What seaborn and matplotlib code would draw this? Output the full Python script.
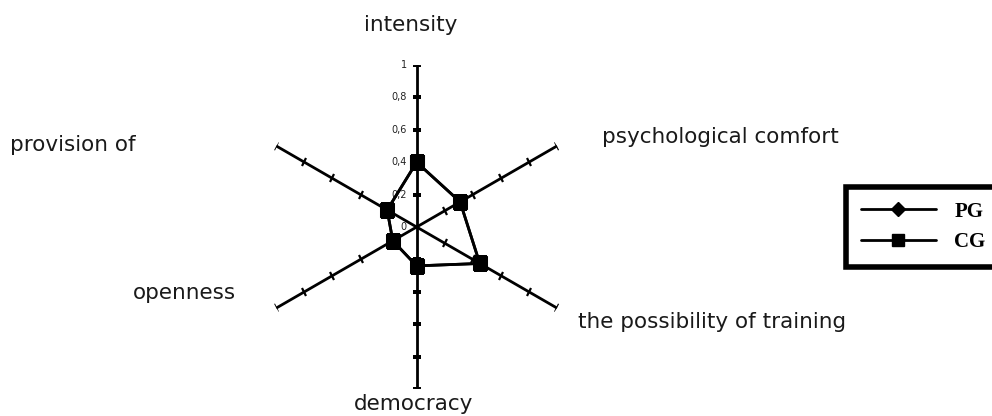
import numpy as np
import pandas as pd
import matplotlib
matplotlib.use('Agg')
import matplotlib.pyplot as plt
import seaborn as sns
from matplotlib.markers import MarkerStyle
from matplotlib.transforms import Affine2D
from matplotlib.lines import Line2D

# dados
categorias = ['intensity', 'psychological comfort', 'the possibility of training',
              'democracy', 'openness', 'provision of']
angulos_graus = [90, 30, -30, -90, 210, 150]
pg = [0.40, 0.31, 0.45, 0.24, 0.17, 0.21]
cg = [0.40, 0.31, 0.45, 0.24, 0.17, 0.21]
ticks_r = [0.2, 0.4, 0.6, 0.8, 1.0]
ticks_txt = ['0,2', '0,4', '0,6', '0,8', '1']

sns.set_style('white')
plt.rcParams['font.family'] = ['DejaVu Sans']

fig = plt.figure(figsize=(9.92, 4.16), dpi=100)
ax = fig.add_axes([0.2567, 0.0649, 0.3266, 0.7788], projection='polar')
ax.set_ylim(0, 1)
ax.grid(False)
ax.spines['polar'].set_visible(False)
ax.set_xticks([])
ax.set_yticks([])
ax.patch.set_alpha(0)

# eixos radiais com marcas
for ang in angulos_graus:
    t = np.deg2rad(ang)
    ax.plot([t, t], [0, 1], color='black', lw=2, zorder=1)
    mk = MarkerStyle('_', transform=Affine2D().rotate_deg(ang - 90))
    ax.plot([t] * len(ticks_r), ticks_r, ls='none', marker=mk,
            markersize=6, markeredgewidth=1.6, color='black', zorder=1)

# rotulos da escala
for r, txt in zip([0] + ticks_r, ['0'] + ticks_txt):
    ax.text(np.deg2rad(90), r, txt, ha='right', va='center', fontsize=7,
            color='#222222', zorder=2,
            transform=ax.transData + Affine2D().translate(-10, 0))

# series
theta = np.deg2rad(angulos_graus)
df_pg = pd.DataFrame({'theta': np.append(theta, theta[0]), 'valor': pg + pg[:1]})
df_cg = pd.DataFrame({'theta': np.append(theta, theta[0]), 'valor': cg + cg[:1]})
sns.lineplot(data=df_pg, x='theta', y='valor', marker='D', sort=False,
             color='black', linewidth=2, markersize=6, markeredgecolor='black',
             estimator=None, ax=ax, zorder=3)
sns.lineplot(data=df_cg, x='theta', y='valor', marker='s', sort=False,
             color='black', linewidth=2, markersize=10, markeredgecolor='black',
             estimator=None, ax=ax, zorder=4)
ax.set_xlabel('')
ax.set_ylabel('')

# rotulos das categorias
rotulos_pos = {
    'intensity': (411, 25, 'center'),
    'psychological comfort': (602, 137, 'left'),
    'the possibility of training': (578, 322, 'left'),
    'democracy': (414, 404, 'center'),
    'openness': (133, 293, 'left'),
    'provision of': (10, 145, 'left'),
}
for nome in categorias:
    px, py, ha = rotulos_pos[nome]
    fig.text(px / 992, 1 - py / 416, nome, ha=ha, va='center', fontsize=15.5,
             color='#1a1a1a')

# legenda
handles = [Line2D([], [], color='black', lw=2, marker='D', markersize=7),
           Line2D([], [], color='black', lw=2, marker='s', markersize=8)]
leg = fig.legend(handles, ['PG', 'CG'], loc='upper left',
                 bbox_to_anchor=(846 / 992, 1 - 187 / 416),
                 prop={'family': 'Liberation Serif', 'weight': 'bold', 'size': 15},
                 frameon=True, fancybox=False, framealpha=1, handlelength=3.6,
                 borderpad=0.7, labelspacing=0.5, handletextpad=0.9,
                 borderaxespad=0, labelcolor='black')
leg.get_frame().set_edgecolor('black')
leg.get_frame().set_linewidth(4)

fig.savefig('out.png', dpi=100)
